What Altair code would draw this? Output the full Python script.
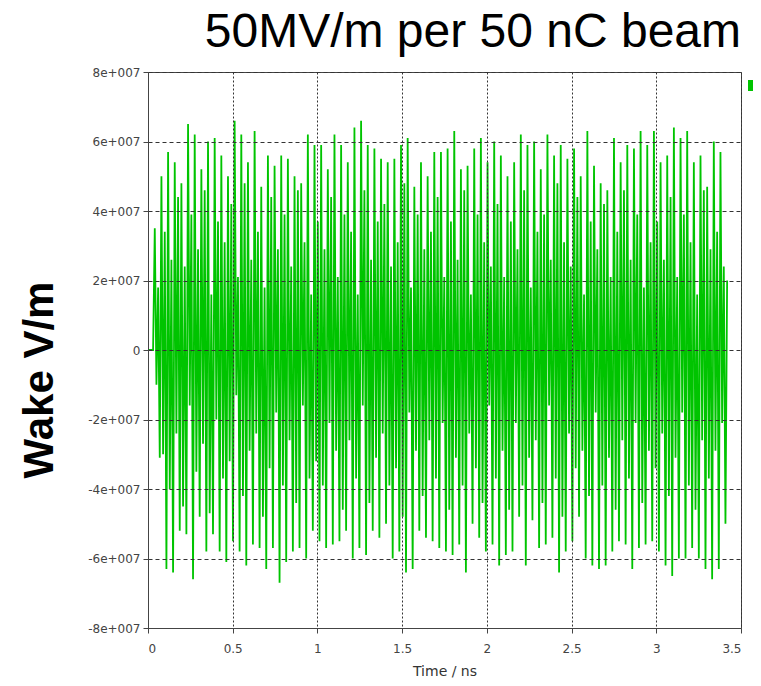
import altair as alt
import pandas as pd

TITLE = "50MV/m per 50 nC beam"
Y_TITLE = "Wake V/m"
X_TITLE = "Time / ns"
X_TICKS = [0, 0.5, 1, 1.5, 2, 2.5, 3, 3.5]
Y_TICKS = [-8e7, -6e7, -4e7, -2e7, 0, 2e7, 4e7, 6e7, 8e7]
GREEN = "#00c400"

# quiet lead-in before the bunch (ns, MV/m)
LEAD_T = [0.0, 0.03]
LEAD_V = [0, 0]
# sampled wake: uniform sample grid
T_START = 0.04
T_STEP = 0.00982

# per oscillation period: upper swing, inner low, inner high, lower swing (MV/m)
TOPS = [35, 50, 57, 54, 48, 65, 62, 52, 60, 61, 56, 50, 66, 62, 54, 63, 47, 56, 53, 56, 55, 50, 48, 62, 59,
        59, 52, 62, 59, 54, 64, 66, 59, 58, 55, 54, 55, 59, 61, 47, 54, 50, 57, 57, 58, 63, 52, 53, 58, 61, 54,
        60, 56, 50, 54, 62, 59, 60, 52, 62, 56, 59, 55, 58, 50, 63, 53, 48, 46, 61, 54, 59, 58, 63, 59,
        63, 54, 56, 64, 61, 63, 54, 56, 47, 60, 57]
INNER_LO = [-10, -30, -40, -24, -45, -16, -35, -27, -47, -20, -37, -32, -13, -42, -29, -24, -48, -34, -18, -39, -26, -44, -16, -37, -32,
            -39, -21, -29, -46, -26, -37, -16, -44, -31, -24, -39, -34, -48, -18, -29, -42, -26, -37, -21, -46, -31, -39, -24, -34, -44, -16,
            -37, -29, -46, -21, -39, -31, -26, -44, -16, -37, -48, -24, -34, -29, -42, -18, -39, -31, -46, -26, -37, -21, -44, -29,
            -34, -24, -42, -31, -18, -39, -46, -26, -37, -29, -21]
INNER_HI = [18, 34, 26, 44, 24, 39, 29, 46, 16, 37, 31, 42, 21, 48, 26, 34, 18, 44, 29, 39, 24, 46, 31, 16, 37,
            29, 44, 21, 39, 34, 16, 46, 26, 37, 42, 24, 31, 48, 18, 39, 29, 34, 44, 21, 37, 26, 46, 16, 39, 31, 24,
            42, 21, 37, 29, 46, 18, 34, 39, 26, 48, 31, 24, 44, 16, 37, 29, 42, 21, 34, 46, 26, 39, 18, 31,
            37, 26, 44, 21, 39, 31, 16, 46, 29, 34, 24]
BOTS = [-31, -63, -64, -52, -53, -66, -48, -58, -53, -58, -61, -55, -58, -62, -56, -57, -63, -57, -67, -61, -58, -57, -60, -52, -55,
        -57, -56, -55, -52, -60, -57, -59, -52, -54, -50, -60, -58, -64, -63, -52, -54, -55, -57, -58, -59, -56, -64, -50, -54, -58, -56,
        -62, -59, -58, -48, -62, -49, -57, -56, -54, -64, -58, -55, -48, -60, -62, -63, -62, -58, -55, -56, -63, -57, -56, -55,
        -58, -62, -65, -60, -60, -57, -60, -63, -66, -63, -50]
TAIL_V = [20]

samples = []
for a, b, c, d in zip(TOPS, INNER_LO, INNER_HI, BOTS):
    samples += [a, b, c, d]
samples += TAIL_V
times = [T_START + i * T_STEP for i in range(len(samples))]

df = pd.DataFrame({
    "t": LEAD_T + times,
    "v": [x * 1e6 for x in LEAD_V + samples],
})

W, H = 593, 556

line = alt.Chart(df).mark_line(color=GREEN, strokeWidth=1.8, clip=True).encode(
    x=alt.X("t:Q", scale=alt.Scale(domain=[0, 3.5], nice=False, zero=False),
            axis=alt.Axis(values=X_TICKS, title=X_TITLE, grid=True, gridDash=[2, 2],
                          gridColor="#333", gridOpacity=1,
                          labelExpr="format(datum.value, '~g')",
                          labelFont="DejaVu Sans", labelFontSize=12, labelColor="#444",
                          titleFont="DejaVu Sans", titleFontSize=14, titleFontWeight="normal",
                          titleColor="#333", tickColor="#444", tickSize=5,
                          domainColor="#444", labelPadding=10, titlePadding=10, zindex=1)),
    y=alt.Y("v:Q", scale=alt.Scale(domain=[-8e7, 8e7], nice=False),
            axis=alt.Axis(values=Y_TICKS, title=None, grid=True, gridDash=[4, 3],
                          gridColor="#333", gridOpacity=1,
                          labelExpr="datum.value == 0 ? '0' : replace(replace(format(datum.value, '.0e'), 'e+', 'e+00'), '\u2212', '-')",
                          labelFont="DejaVu Sans", labelFontSize=12, labelColor="#444",
                          tickColor="#444", tickSize=5, domainColor="#444",
                          labelPadding=3, zindex=1)),
)

title = alt.Chart(pd.DataFrame({"label": [TITLE]})).mark_text(
    font="Liberation Sans", fontSize=48, align="right", baseline="alphabetic", color="#000"
).encode(text="label:N", x=alt.value(W), y=alt.value(-25))

ytitle = alt.Chart(pd.DataFrame({"label": [Y_TITLE]})).mark_text(
    font="Liberation Sans", fontSize=42, fontWeight="bold", angle=270,
    align="center", baseline="alphabetic", color="#000"
).encode(text="label:N", x=alt.value(-95), y=alt.value(308))

legend_swatch = alt.Chart(pd.DataFrame({"k": [0]})).mark_rect(color=GREEN).encode(
    x=alt.value(600), x2=alt.value(605), y=alt.value(8), y2=alt.value(19)
)

chart = alt.layer(line, title, ytitle, legend_swatch).properties(
    width=W, height=H,
    padding={"left": 140, "top": 64, "right": 12, "bottom": 50},
    autosize=alt.AutoSizeParams(type="none"),
).configure_view(stroke="#444", strokeWidth=1)

chart.save("out.html", embed_options={"renderer": "svg", "actions": False})
